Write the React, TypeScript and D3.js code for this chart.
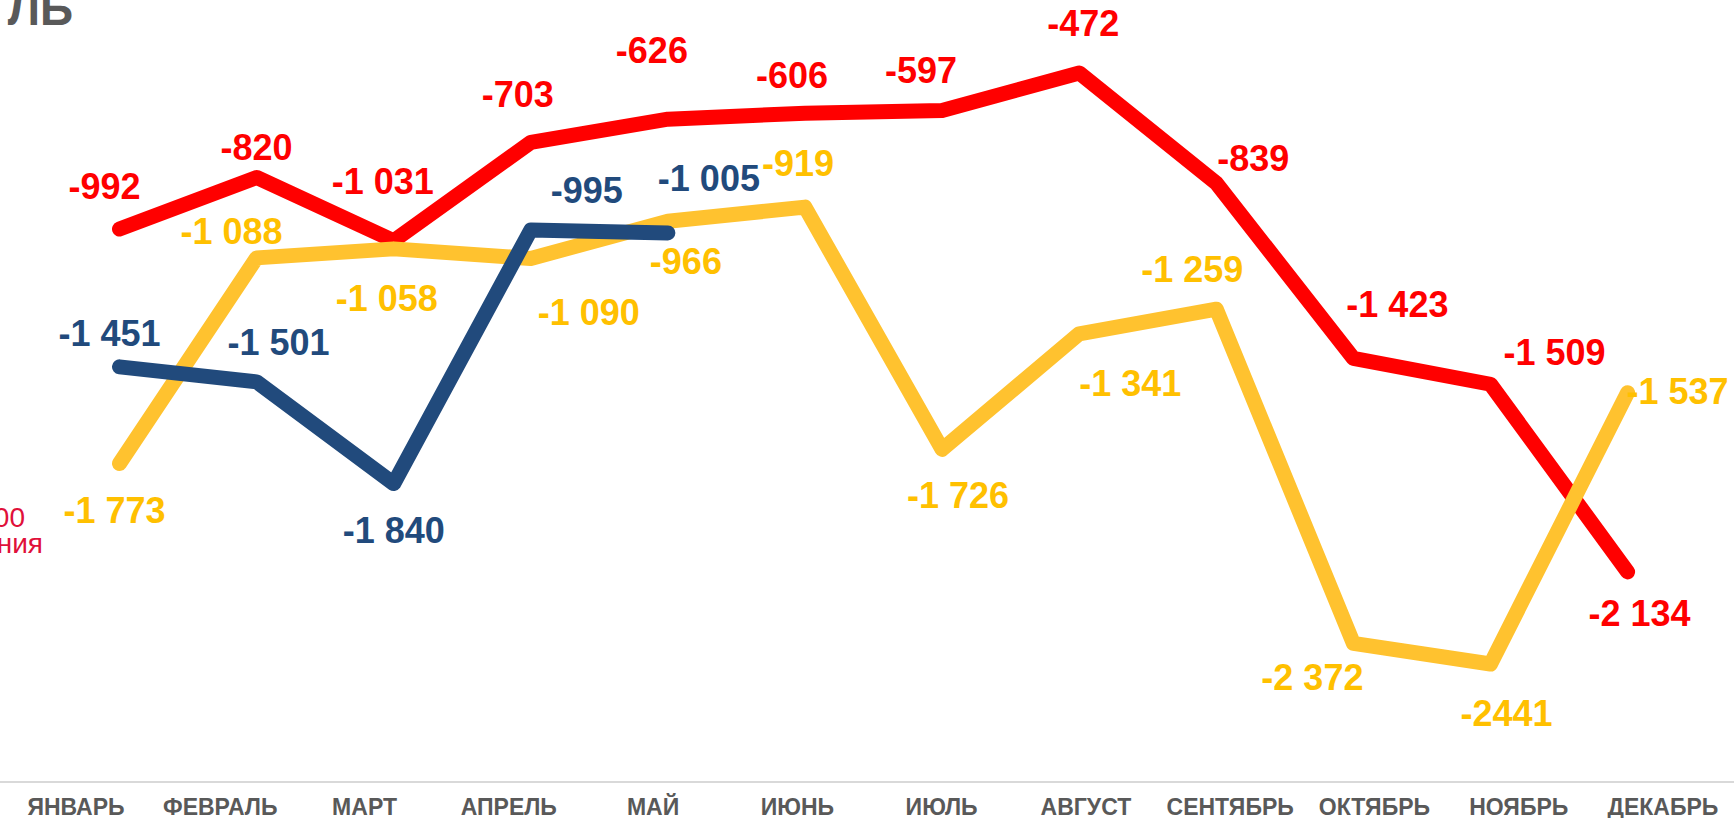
import React from "react";
import * as d3 from "d3";

const months = ["ЯНВАРЬ", "ФЕВРАЛЬ", "МАРТ", "АПРЕЛЬ", "МАЙ", "ИЮНЬ", "ИЮЛЬ", "АВГУСТ", "СЕНТЯБРЬ", "ОКТЯБРЬ", "НОЯБРЬ", "ДЕКАБРЬ"];
const redValues = [-992, -820, -1031, -703, -626, -606, -597, -472, -839, -1423, -1509, -2134];
const yellowValues = [-1773, -1088, -1058, -1090, -966, -919, -1726, -1341, -1259, -2372, -2441, -1537];
const blueValues = [-1451, -1501, -1840, -995, -1005];
const redLabels = ["-992", "-820", "-1 031", "-703", "-626", "-606", "-597", "-472", "-839", "-1 423", "-1 509", "-2 134"];
const yellowLabels = ["-1 773", "-1 088", "-1 058", "-1 090", "-966", "-919", "-1 726", "-1 341", "-1 259", "-2 372", "-2441", "-1 537"];
const blueLabels = ["-1 451", "-1 501", "-1 840", "-995", "-1 005"];

// label offsets (layout) relative to each point
const redOffsets: [number, number][] = [[-15, -43], [0, -30], [-11, -59], [-13, -48], [-16, -69], [-13, -38], [-21, -40], [4, -49], [37, -25], [44, -54], [64, -32], [12, 42]];
const yellowOffsets: [number, number][] = [[-5, 47], [-25, -26], [-7, 50], [58, 54], [18, 40], [-7, -44], [16, 46], [51, 50], [-24, -40], [-41, 34], [16, 49], [50, -1]];
const blueOffsets: [number, number][] = [[-10, -33], [22, -39], [0, 47], [56, -39], [41, -54]];

const W = 1734;
const H = 818;

export default function App() {
  const x = d3.scalePoint<string>().domain(months).range([119.5, 1627.6]);
  const xLab = d3.scalePoint<string>().domain(months).range([76, 1663]);
  const y = d3.scaleLinear().domain([-2834, -229]).range([782, 0]);

  const line = d3
    .line<number>()
    .x((_, i) => x(months[i]) as number)
    .y((d) => y(d));

  const series = [
    { values: redValues, labels: redLabels, offs: redOffsets, stroke: "#FF0000", text: "#FF0000" },
    { values: yellowValues, labels: yellowLabels, offs: yellowOffsets, stroke: "#FFC22F", text: "#FFC000" },
    { values: blueValues, labels: blueLabels, offs: blueOffsets, stroke: "#214A7C", text: "#214A7C" },
  ];

  return (
    <svg
      width={W}
      height={H}
      style={{ position: "absolute", left: 0, top: 0, background: "#fff" }}
      fontFamily="Arial, 'Liberation Sans', sans-serif"
    >
      <text x={73} y={25} textAnchor="end" fontSize={46} fontWeight="bold" fill="#595959">
        ЛЬ
      </text>
      <text x={25} y={527} textAnchor="end" fontSize={28} fill="#E0103A">
        00
      </text>
      <text x={43} y={553} textAnchor="end" fontSize={28} fill="#E0103A">
        ния
      </text>

      <line x1={0} x2={W} y1={782} y2={782} stroke="#D9D9D9" strokeWidth={2} />
      {months.map((m) => (
        <text
          key={m}
          x={xLab(m)}
          y={815}
          textAnchor="middle"
          fontSize={23}
          fontWeight="bold"
          fill="#595959"
        >
          {m}
        </text>
      ))}

      {series.map((s, si) => (
        <path
          key={"l" + si}
          d={line(s.values) || ""}
          fill="none"
          stroke={s.stroke}
          strokeWidth={15}
          strokeLinecap="round"
          strokeLinejoin="round"
        />
      ))}

      {series.map((s, si) =>
        s.values.map((v, i) => (
          <text
            key={"t" + si + "-" + i}
            x={(x(months[i]) as number) + s.offs[i][0]}
            y={y(v) + s.offs[i][1]}
            textAnchor="middle"
            dominantBaseline="central"
            fontSize={36}
            fontWeight="bold"
            fill={s.text}
          >
            {s.labels[i]}
          </text>
        ))
      )}
    </svg>
  );
}
